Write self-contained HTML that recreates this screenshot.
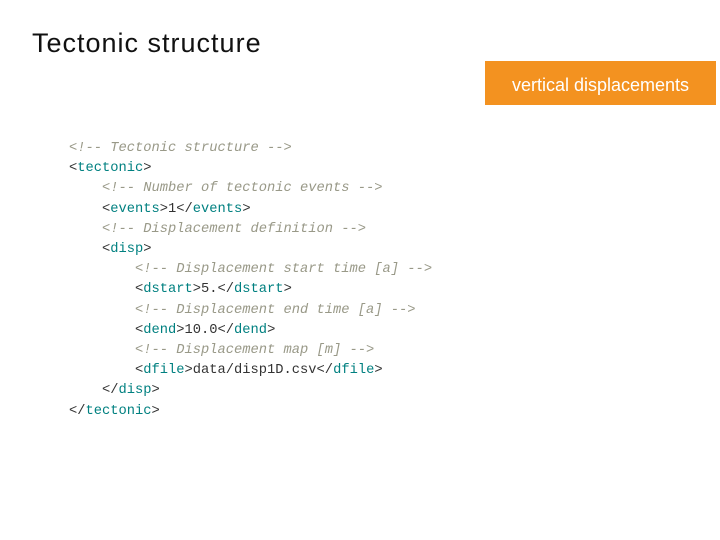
<!DOCTYPE html>
<html><head><meta charset="utf-8"><style>
html,body{margin:0;padding:0;background:#fff;}
body{width:720px;height:540px;position:relative;overflow:hidden;}
.title{position:absolute;left:32px;top:28px;font-family:"Liberation Sans",sans-serif;font-size:27px;letter-spacing:1px;color:#111;white-space:nowrap;}
.btn{position:absolute;left:485px;top:61px;width:231px;height:44px;background:#f39220;color:#fff;font-family:"Liberation Sans",sans-serif;font-size:18px;line-height:48px;text-align:center;}
pre{position:absolute;left:69px;top:139px;margin:0;font-family:"Liberation Mono",monospace;font-size:13.75px;line-height:20.2px;color:#333;}
.c{color:#999988;font-style:italic;}
.t{color:#008080;}
</style></head><body>
<div class="title">Tectonic structure</div>
<div class="btn">vertical displacements</div>
<pre><span class="c">&lt;!-- Tectonic structure --&gt;</span>
&lt;<span class="t">tectonic</span>&gt;
    <span class="c">&lt;!-- Number of tectonic events --&gt;</span>
    &lt;<span class="t">events</span>&gt;1&lt;/<span class="t">events</span>&gt;
    <span class="c">&lt;!-- Displacement definition --&gt;</span>
    &lt;<span class="t">disp</span>&gt;
        <span class="c">&lt;!-- Displacement start time [a] --&gt;</span>
        &lt;<span class="t">dstart</span>&gt;5.&lt;/<span class="t">dstart</span>&gt;
        <span class="c">&lt;!-- Displacement end time [a] --&gt;</span>
        &lt;<span class="t">dend</span>&gt;10.0&lt;/<span class="t">dend</span>&gt;
        <span class="c">&lt;!-- Displacement map [m] --&gt;</span>
        &lt;<span class="t">dfile</span>&gt;data/disp1D.csv&lt;/<span class="t">dfile</span>&gt;
    &lt;/<span class="t">disp</span>&gt;
&lt;/<span class="t">tectonic</span>&gt;</pre>
</body></html>
